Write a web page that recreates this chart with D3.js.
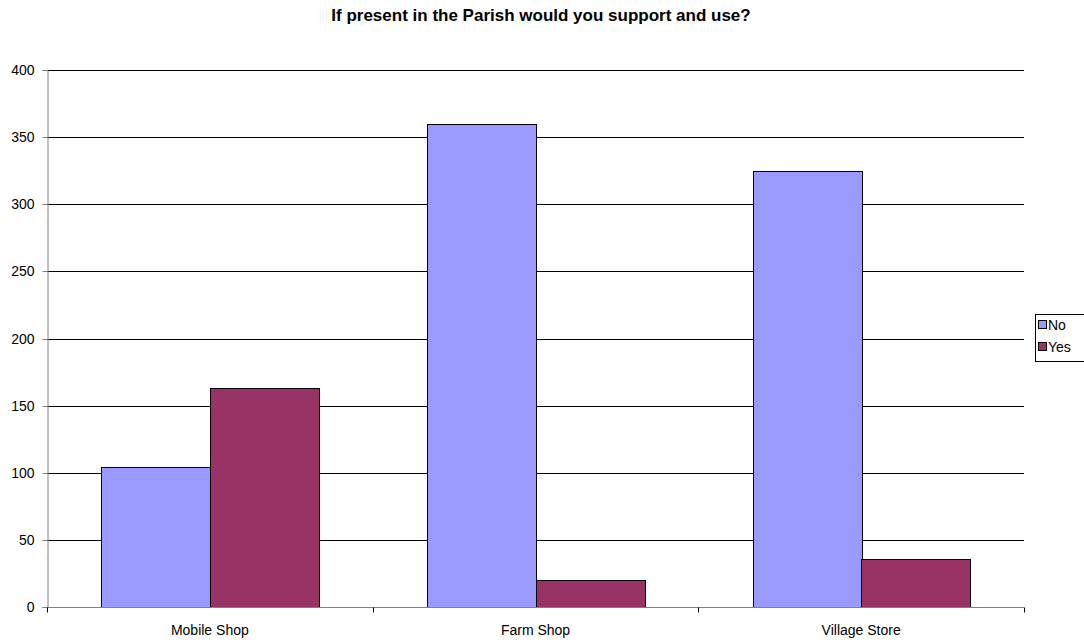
<!DOCTYPE html>
<html><head><meta charset="utf-8">
<script src="https://cdn.jsdelivr.net/npm/d3@7"></script>
<style>body{margin:0;background:#fff}svg{display:block;font-family:"Liberation Sans",Arial,sans-serif}</style>
</head><body>
<svg id="c" width="1084" height="643"></svg>
<script>
const title = "If present in the Parish would you support and use?";
const categories = ["Mobile Shop", "Farm Shop", "Village Store"];
const seriesNames = ["No", "Yes"];
const noValues = [104, 360, 325];
const yesValues = [163, 20, 36];
const yTicks = [0, 50, 100, 150, 200, 250, 300, 350, 400];
const colors = ["#9999ff", "#993366"];

const svg = d3.select("#c");
const L = 47, R = 1024, T = 70, B = 607;
const x = d3.scaleBand().domain(categories).range([L, R]).paddingInner(0).paddingOuter(0);
const y = d3.scaleLinear().domain([0, 400]).range([B, T]);
const inner = d3.scaleBand().domain(seriesNames).range([0, x.bandwidth()]).paddingInner(0).paddingOuter(0.5);

svg.append("text").attr("x", 541).attr("y", 21).attr("text-anchor", "middle")
  .attr("font-weight", "bold").attr("font-size", 17).text(title);

// gridlines
svg.append("g").selectAll("line").data(yTicks.filter(d => d > 0)).join("line")
  .attr("x1", L).attr("x2", R).attr("y1", d => Math.round(y(d)) + 0.5).attr("y2", d => Math.round(y(d)) + 0.5)
  .attr("stroke", "#000").attr("stroke-width", 1);

// bars
const data = categories.map((c, i) => ({c, vals: [noValues[i], yesValues[i]]}));
const g = svg.append("g");
data.forEach(d => {
  seriesNames.forEach((s, j) => {
    const v = d.vals[j];
    g.append("rect")
      .attr("x", Math.round(x(d.c) + inner(s)) + 0.5)
      .attr("y", Math.round(y(v)) + 0.5)
      .attr("width", Math.round(inner.bandwidth()))
      .attr("height", Math.round(y(0)) - Math.round(y(v)))
      .attr("fill", colors[j]).attr("stroke", "#000").attr("stroke-width", 1);
  });
});

// y axis
const ya = svg.append("g").attr("transform", `translate(${L + 0.5},0)`)
  .call(d3.axisLeft(y).tickValues(yTicks).tickSize(5).tickPadding(8).tickFormat(d3.format("d")));
ya.select(".domain").attr("stroke", "#808080");
ya.selectAll(".tick line").attr("stroke", "#808080");
ya.selectAll(".tick text").attr("font-size", 14).attr("fill", "#000").attr("font-family", "Liberation Sans, Arial, sans-serif");
ya.selectAll(".tick").attr("transform", d => `translate(0,${Math.round(y(d)) + 0.5})`);

// x axis
const xa = svg.append("g").attr("transform", `translate(0,${B + 0.5})`);
xa.append("line").attr("x1", L).attr("x2", R).attr("stroke", "#808080");
const xt = [L + x.bandwidth(), L + 2 * x.bandwidth(), R];
xa.selectAll("line.t").data([L, ...xt]).join("line").attr("class", "t")
  .attr("x1", d => Math.round(d) + 0.5).attr("x2", d => Math.round(d) + 0.5).attr("y1", 0).attr("y2", 5)
  .attr("stroke", "#000");
xa.selectAll("text").data(categories).join("text")
  .attr("x", d => x(d) + x.bandwidth() / 2).attr("y", 27).attr("text-anchor", "middle")
  .attr("font-size", 14).text(d => d);

// legend
const lg = svg.append("g");
lg.append("rect").attr("x", 1035.5).attr("y", 314.5).attr("width", 52).attr("height", 47)
  .attr("fill", "#fff").attr("stroke", "#000");
seriesNames.forEach((s, j) => {
  const yy = 320 + j * 22;
  lg.append("rect").attr("x", 1038.5).attr("y", yy + 0.5).attr("width", 8).attr("height", 8)
    .attr("fill", colors[j]).attr("stroke", "#000");
  lg.append("text").attr("x", 1048).attr("y", yy + 10).attr("font-size", 14).text(s);
});
</script>
</body></html>
